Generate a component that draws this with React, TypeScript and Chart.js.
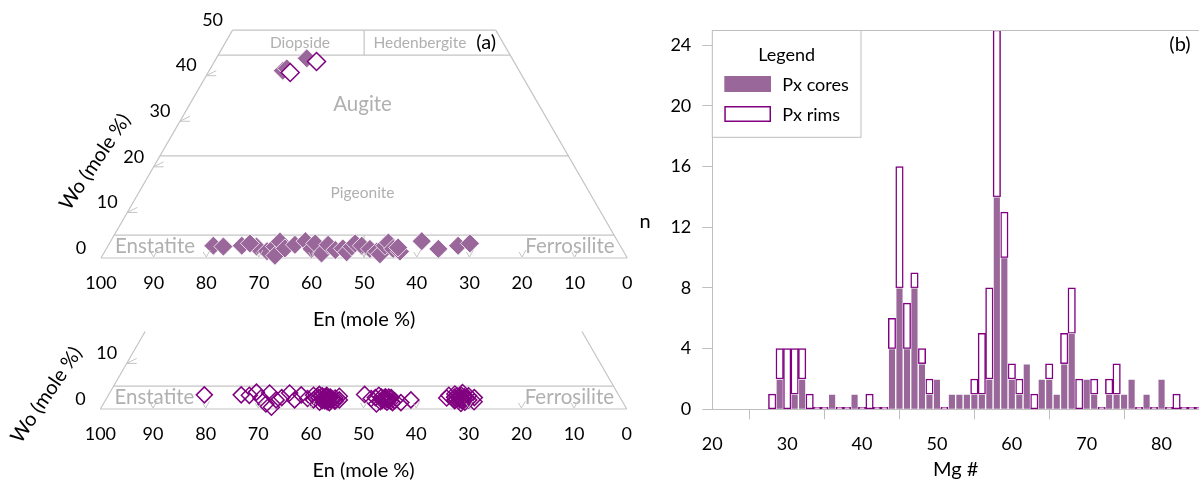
import React, { useEffect, useRef } from 'react';
import { Chart, registerables } from 'chart.js';

Chart.register(...registerables);

const FONT = 'Lato, "Open Sans", sans-serif';
const K = Math.sqrt(3) / 2;

// ---------------- Histogram data (Mg# bins, 1 unit wide) ----------------
const MG_BINS = [28, 29, 30, 31, 32, 33, 34, 35, 36, 37, 38, 39, 40, 41, 42, 43, 44, 45, 46, 47, 48, 49, 50, 51, 52, 53, 54, 55, 56, 57, 58, 59, 60, 61, 62, 63, 64, 65, 66, 67, 68, 69, 70, 71, 72, 73, 74, 75, 76, 77, 78, 79, 80, 81, 82, 83, 84, 85];
const CORES_N = [0, 2, 0, 1, 2, 0, 0, 0, 1, 0, 0, 1, 0, 0, 0, 0, 4, 8, 4, 8, 3, 1, 2, 0, 1, 1, 1, 1, 1, 2, 14, 10, 2, 1, 3, 0, 2, 2, 1, 3, 5, 0, 2, 1, 0, 1, 1, 1, 2, 0, 1, 0, 2, 0, 0, 0, 0, 0];
const RIMS_N = [1, 2, 4, 3, 2, 1, 0, 0, 0, 0, 0, 0, 0, 1, 0, 0, 2, 8, 3, 1, 1, 1, 0, 0, 0, 0, 0, 1, 4, 6, 11, 3, 1, 1, 0, 1, 0, 1, 0, 2, 3, 2, 0, 1, 0, 1, 2, 0, 0, 0, 0, 0, 0, 0, 1, 0, 0, 0];
const HIST_X_RANGE = [20, 85];
const HIST_Y_RANGE = [0, 25];
const HIST_X_STEP = 10;
const HIST_Y_STEP = 4;

// ---------------- Ternary data (En, Wo in mole %) ----------------
const CORE_EN = [77.3, 75.5, 71.9, 69.2, 70.1, 67.7, 65.7, 66.7, 64.2, 64.0, 61.7, 59.3, 59.0, 57.7, 57.6, 55.4, 54.6, 53.0, 52.7, 51.1, 50.1, 49.1, 47.9, 46.9, 46.6, 44.7, 43.7, 43.5, 42.5, 42.4, 37.2, 34.9, 30.8, 28.3, 44.9, 43.9, 39.0];
const CORE_WO = [2.7, 2.5, 2.7, 2.5, 3.2, 1.5, 2.5, 0.5, 3.6, 2.1, 2.9, 3.7, 2.0, 3.2, 1.0, 2.9, 1.75, 2.1, 1.25, 2.5, 3.2, 2.7, 2.0, 1.4, 0.8, 2.7, 3.4, 2.0, 1.4, 2.3, 3.7, 2.0, 2.7, 3.2, 41.1, 41.6, 43.8];
const RIM_TOP_EN = [43.7, 37.5];
const RIM_TOP_WO = [40.7, 43.1];
const RIM_EN = [78.7, 71.7, 70.2, 68.5, 68.3, 66.1, 68.0, 67.3, 65.6, 64.3, 62.3, 62.1, 60.3, 59.5,
  58.5, 58.0, 57.6, 57.2, 56.8, 56.5, 56.2, 56.0, 55.8, 55.5, 55.2, 55.0, 54.6, 54.2, 53.6, 57.9, 56.9, 55.6, 53.2,
  57.0, 56.4, 55.9, 55.3, 54.8, 56.6, 55.7, 54.4, 57.4, 56.1,
  48.2, 47.4, 47.0, 46.5, 46.0, 45.6, 45.2, 44.8, 44.5, 44.2, 43.8, 43.5, 43.2, 44.9, 45.5, 42.2, 40.0,
  45.0, 44.6, 44.0, 45.3, 44.4, 43.9,
  33.0, 32.3, 31.8, 31.4, 31.0, 30.7, 30.3, 30.0, 29.7, 29.4, 29.0, 28.6, 28.2, 27.7, 30.9, 29.9,
  31.2, 30.5, 30.1, 29.5, 30.8, 29.2, 31.6, 30.4];
const RIM_WO = [3.1, 3.1, 3.0, 3.7, 2.4, 3.5, 1.1, 0.4, 2.0, 2.5, 3.5, 2.0, 3.1, 2.3,
  2.0, 3.0, 1.5, 2.5, 3.2, 1.8, 2.6, 2.2, 1.4, 3.0, 2.0, 2.6, 1.7, 2.4, 2.0, 2.4, 1.9, 2.3, 2.8,
  2.0, 2.9, 1.9, 2.5, 2.2, 2.3, 2.7, 1.9, 2.8, 1.6,
  3.2, 2.3, 1.1, 2.5, 1.6, 3.0, 2.2, 1.5, 2.7, 2.0, 1.4, 2.5, 1.8, 2.4, 1.9, 1.4, 2.0,
  1.8, 2.3, 1.7, 2.6, 2.1, 2.6,
  2.4, 3.0, 1.8, 2.6, 3.3, 2.0, 2.8, 1.5, 2.4, 3.6, 2.0, 2.9, 1.6, 2.5, 1.2, 3.0,
  2.2, 2.5, 2.1, 2.7, 2.9, 2.3, 2.0, 1.8];

const EN_TICKS = [100, 90, 80, 70, 60, 50, 40, 30, 20, 10, 0];
const WO_TICKS_TOP = [0, 10, 20, 30, 40, 50];
const WO_TICKS_BOTTOM = [0, 10];
const WO_LINES_TOP = [0, 5, 22.4, 44.5, 50];
const WO_LINES_BOTTOM = [0, 5];
const WO_EDGE_TOP = 50;
const WO_EDGE_BOTTOM = 17;
const DIVIDERS_TOP = [[0, 5], [44.5, 50]];

const PURPLE_FILL = '#9a679a';
const PURPLE_LINE = '#800080';
const GREY_LINE = '#c4c4c4';
const GREY_TEXT = '#b0b0b0';

type Label = { text: string; x: number; wo: number; size: number; color: string; align?: CanvasTextAlign };

const toXY = (en: number, wo: number) => ({ x: 100 - en - wo / 2, y: wo * K });

function segment(a: { x: number; y: number }, b: { x: number; y: number }) {
  return {
    type: 'line' as const,
    data: [a, b],
    showLine: true,
    borderColor: GREY_LINE,
    borderWidth: 1.2,
    pointRadius: 0,
    fill: false,
    order: 10,
    clip: false as any,
  };
}

function makeTernary(canvas: HTMLCanvasElement, cfg: any) {
  const sets: any[] = [];
  cfg.lines.forEach((w: number) => sets.push(segment(toXY(100 - w, w), toXY(0, w))));
  sets.push(segment(toXY(100, 0), toXY(100 - cfg.edge, cfg.edge)));
  sets.push(segment(toXY(0, 0), toXY(0, cfg.edge)));
  cfg.dividers.forEach((d: number[]) => sets.push(segment(toXY((100 - d[0]) / 2, d[0]), toXY((100 - d[1]) / 2, d[1]))));
  cfg.points.forEach((p: any) => sets.push(p));

  const plugin = {
    id: 'ternaryText',
    beforeDatasetsDraw(chart: any) {
      const ctx = chart.ctx as CanvasRenderingContext2D;
      const xs = chart.scales.x, ys = chart.scales.y;
      ctx.save();
      ctx.textBaseline = 'middle';
      cfg.regions.forEach((l: Label) => {
        ctx.font = `${l.size}px ${FONT}`;
        ctx.fillStyle = l.color;
        ctx.textAlign = l.align || 'center';
        ctx.fillText(l.text, xs.getPixelForValue(l.x), ys.getPixelForValue(l.wo * K));
      });
      ctx.restore();
    },
    afterDatasetsDraw(chart: any) {
      const ctx = chart.ctx as CanvasRenderingContext2D;
      const xs = chart.scales.x, ys = chart.scales.y;
      const P = (en: number, wo: number) => [xs.getPixelForValue(100 - en - wo / 2), ys.getPixelForValue(wo * K)];
      ctx.save();
      // En ticks
      ctx.fillStyle = '#000';
      ctx.font = `18px ${FONT}`;
      ctx.textAlign = 'center';
      ctx.textBaseline = 'middle';
      EN_TICKS.forEach((en) => {
        const [x, y] = P(en, 0);
        ctx.fillText(String(en), x, y + 25);
      });
      ctx.strokeStyle = GREY_LINE;
      ctx.lineWidth = 1;
      EN_TICKS.filter((en) => en > 0 && en < 100).forEach((en) => {
        const [x, y] = P(en, 0);
        ctx.beginPath();
        ctx.moveTo(x - 3, y - 6);
        ctx.lineTo(x, y - 1);
        ctx.lineTo(x + 4, y - 8);
        ctx.stroke();
      });
      // Wo ticks
      cfg.woTicks.forEach((w: number) => {
        const [x, y] = P(100 - w, w);
        ctx.fillText(String(w), x - 20, y - 10);
        if (w > 0 && w < 50) {
          ctx.beginPath();
          ctx.moveTo(x + 10, y - 5);
          ctx.lineTo(x, y);
          ctx.lineTo(x + 10, y);
          ctx.stroke();
        }
      });
      // axis titles
      ctx.font = `20px ${FONT}`;
      const [cx, by] = P(50, 0);
      ctx.fillText('En (mole %)', cx, by + 62);
      const [lx, ly] = P(100, 0);
      ctx.translate(lx + cfg.woTitle[0], ly + cfg.woTitle[1]);
      ctx.rotate((-56 * Math.PI) / 180);
      ctx.fillText('Wo (mole %)', 0, 0);
      ctx.restore();
    },
  };

  return new Chart(canvas, {
    type: 'scatter',
    data: { datasets: sets },
    options: {
      responsive: false,
      animation: false,
      devicePixelRatio: 1,
      layout: { padding: cfg.padding },
      plugins: { legend: { display: false }, tooltip: { enabled: false } },
      scales: {
        x: { type: 'linear', min: 0, max: 100, display: false },
        y: { type: 'linear', min: 0, max: cfg.woMax * K, display: false },
      },
    },
    plugins: [plugin],
  } as any);
}

function makeHist(canvas: HTMLCanvasElement) {
  const tickFont = { family: FONT, size: 18 };
  const plugin = {
    id: 'histText',
    afterDraw(chart: any) {
      const ctx = chart.ctx as CanvasRenderingContext2D;
      const a = chart.chartArea;
      ctx.save();
      // top frame line
      ctx.strokeStyle = '#bfbfbf';
      ctx.lineWidth = 1;
      ctx.beginPath();
      ctx.moveTo(a.left, a.top + 0.5);
      ctx.lineTo(a.right, a.top + 0.5);
      ctx.stroke();
      // legend box
      const bx = a.left, by = a.top + 0.5, bw = 148.7, bh = 106.8;
      ctx.fillStyle = '#fff';
      ctx.fillRect(bx, by, bw, bh);
      ctx.strokeRect(bx, by, bw, bh);
      ctx.fillStyle = '#000';
      ctx.textBaseline = 'middle';
      ctx.textAlign = 'center';
      ctx.font = `18px ${FONT}`;
      ctx.fillText('Legend', bx + 74.4, by + 24.5);
      const ds = chart.data.datasets;
      ds.forEach((d: any, i: number) => {
        const sy = by + 45.5 + i * 30;
        if (i === 0) {
          ctx.fillStyle = d.backgroundColor;
          ctx.fillRect(bx + 12, sy, 46.7, 16);
        } else {
          ctx.fillStyle = '#fff';
          ctx.fillRect(bx + 12, sy, 46.7, 16);
          ctx.strokeStyle = d.borderColor;
          ctx.lineWidth = 1.5;
          ctx.strokeRect(bx + 12.75, sy + 0.75, 45.2, 14.5);
        }
        ctx.fillStyle = '#000';
        ctx.textAlign = 'left';
        ctx.fillText(d.label, bx + 70, sy + 9);
      });
      // titles
      ctx.textAlign = 'center';
      ctx.font = `20px ${FONT}`;
      ctx.fillText('Mg #', (a.left + a.right) / 2, 470);
      ctx.fillText('n', 9, 222);
      ctx.fillText('(b)', 544, 45);
      ctx.restore();
    },
  };

  return new Chart(canvas, {
    type: 'bar',
    data: {
      datasets: [
        {
          label: 'Px cores',
          data: MG_BINS.map((b, i) => ({ x: b, y: CORES_N[i] > 0 ? CORES_N[i] : null })),
          backgroundColor: PURPLE_FILL,
          borderColor: 'rgba(255,255,255,0.4)',
          borderWidth: 1,
          barPercentage: 1,
          categoryPercentage: 1,
          stack: 'px',
        },
        {
          label: 'Px rims',
          data: MG_BINS.map((b, i) => ({ x: b, y: RIMS_N[i] > 0 ? RIMS_N[i] : CORES_N[i] === 0 ? 0 : null })),
          backgroundColor: '#ffffff',
          borderColor: PURPLE_LINE,
          borderWidth: 1.5,
          borderSkipped: false,
          minBarLength: 2,
          barPercentage: 1,
          categoryPercentage: 1,
          stack: 'px',
        },
      ],
    },
    options: {
      responsive: false,
      animation: false,
      devicePixelRatio: 1,
      layout: { padding: { top: 30, right: 0, left: 0, bottom: 0 } },
      plugins: { legend: { display: false }, tooltip: { enabled: false } },
      scales: {
        x: {
          type: 'linear',
          min: HIST_X_RANGE[0],
          max: HIST_X_RANGE[1],
          stacked: true,
          offset: false,
          ticks: { stepSize: HIST_X_STEP, includeBounds: false, font: tickFont, color: '#000', padding: 14 },
          grid: { drawOnChartArea: false, tickLength: 10, color: '#bfbfbf' },
          border: { color: '#bfbfbf' },
          afterFit: (s: any) => { s.height = 74.7; },
        },
        y: {
          type: 'linear',
          min: HIST_Y_RANGE[0],
          max: HIST_Y_RANGE[1],
          stacked: true,
          ticks: { stepSize: HIST_Y_STEP, includeBounds: false, font: tickFont, color: '#000', padding: 11 },
          grid: { drawOnChartArea: false, tickLength: 10, color: '#bfbfbf' },
          border: { color: '#bfbfbf' },
          afterFit: (s: any) => { s.width = 76.3; },
        },
      },
    },
    plugins: [plugin],
  } as any);
}

const coreSet = {
  data: CORE_EN.map((en, i) => toXY(en, CORE_WO[i])),
  pointStyle: 'rectRot',
  pointRadius: 9.5,
  backgroundColor: PURPLE_FILL,
  borderColor: 'rgba(255,255,255,0.75)',
  borderWidth: 1,
  order: 5,
  clip: false,
};
const rimTopSet = {
  data: RIM_TOP_EN.map((en, i) => toXY(en, RIM_TOP_WO[i])),
  pointStyle: 'rectRot',
  pointRadius: 9,
  backgroundColor: '#ffffff',
  borderColor: PURPLE_LINE,
  borderWidth: 1.5,
  order: 1,
  clip: false,
};
const rimSet = {
  data: RIM_EN.map((en, i) => toXY(en, RIM_WO[i])),
  pointStyle: 'rectRot',
  pointRadius: 8,
  backgroundColor: 'rgba(255,255,255,0)',
  borderColor: PURPLE_LINE,
  borderWidth: 1.5,
  order: 1,
  clip: false,
};

const TOP_CFG = {
  padding: { left: 101, right: 12.7, top: 30.1, bottom: 72 },
  woMax: 50,
  edge: WO_EDGE_TOP,
  lines: WO_LINES_TOP,
  dividers: DIVIDERS_TOP,
  woTicks: WO_TICKS_TOP,
  woTitle: [-6, -96],
  points: [coreSet, rimTopSet],
  regions: [
    { text: 'Diopside', x: 37.8, wo: 47.1, size: 15.5, color: GREY_TEXT },
    { text: 'Hedenbergite', x: 60.6, wo: 47.1, size: 15.5, color: GREY_TEXT },
    { text: 'Augite', x: 49.7, wo: 33.8, size: 20.5, color: GREY_TEXT },
    { text: 'Pigeonite', x: 49.7, wo: 14.2, size: 15.5, color: GREY_TEXT },
    { text: 'Enstatite', x: 10.26, wo: 2.48, size: 20.5, color: GREY_TEXT },
    { text: 'Ferrosilite', x: 89.1, wo: 2.48, size: 20.5, color: GREY_TEXT },
    { text: '(a)', x: 73.2, wo: 47.2, size: 20, color: '#000' },
  ],
};

const BOTTOM_CFG = {
  padding: { left: 100.4, right: 13.3, top: 17.84, bottom: 75 },
  woMax: 20,
  edge: WO_EDGE_BOTTOM,
  lines: WO_LINES_BOTTOM,
  dividers: [],
  woTicks: WO_TICKS_BOTTOM,
  woTitle: [-54, -14],
  points: [rimSet],
  regions: [
    { text: 'Enstatite', x: 10.26, wo: 2.48, size: 20.5, color: GREY_TEXT },
    { text: 'Ferrosilite', x: 89.1, wo: 2.48, size: 20.5, color: GREY_TEXT },
  ],
};

export default function App() {
  const topRef = useRef<HTMLCanvasElement>(null);
  const botRef = useRef<HTMLCanvasElement>(null);
  const histRef = useRef<HTMLCanvasElement>(null);

  useEffect(() => {
    const charts = [
      makeTernary(topRef.current!, TOP_CFG),
      makeTernary(botRef.current!, BOTTOM_CFG),
      makeHist(histRef.current!),
    ];
    return () => charts.forEach((c) => c.destroy());
  }, []);

  return (
    <div style={{ position: 'absolute', left: 0, top: 0, width: 1199, height: 484, background: '#fff', overflow: 'hidden' }}>
      <canvas ref={topRef} width={640} height={330} style={{ position: 'absolute', left: 0, top: 0, width: 640, height: 330 }} />
      <canvas ref={botRef} width={640} height={184} style={{ position: 'absolute', left: 0, top: 300, width: 640, height: 184 }} />
      <canvas ref={histRef} width={563} height={484} style={{ position: 'absolute', left: 636, top: 0, width: 563, height: 484 }} />
    </div>
  );
}
